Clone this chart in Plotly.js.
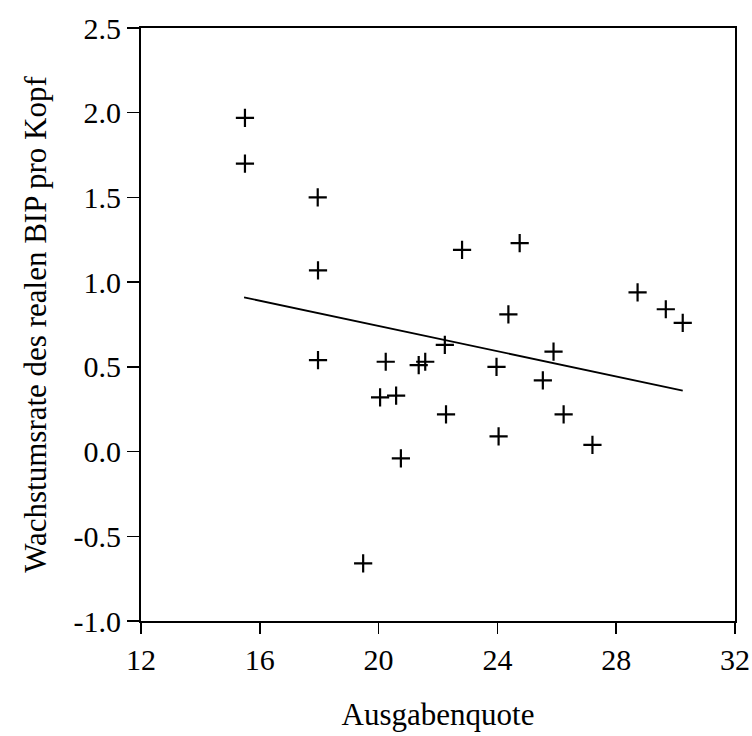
<!DOCTYPE html>
<html>
<head>
<meta charset="utf-8">
<script src="https://cdn.plot.ly/plotly-3.0.1.min.js"></script>
<style>html,body{margin:0;padding:0;background:#fff;}#chart{width:752px;height:736px;}</style>
</head>
<body>
<div id="chart"></div>
<script>
// Scatter data: Ausgabenquote (x) vs. Wachstumsrate des realen BIP pro Kopf (y)
const quote = [15.5, 15.5, 17.95, 17.96, 17.96, 22.81, 24.75, 28.72, 24.37, 29.67, 30.24, 22.23, 25.89, 20.24, 21.35, 21.57, 23.97, 25.53, 20.05, 20.59, 22.27, 26.23, 24.04, 27.2, 20.75, 19.48];
const growth = [1.97, 1.70, 1.50, 1.07, 0.54, 1.19, 1.23, 0.94, 0.81, 0.84, 0.76, 0.63, 0.59, 0.53, 0.51, 0.53, 0.50, 0.42, 0.32, 0.33, 0.22, 0.22, 0.09, 0.04, -0.04, -0.66];
// Fitted regression line endpoints
const fitX = [15.47, 30.24];
const fitY = [0.91, 0.36];
const yTicks = [-1.0, -0.5, 0.0, 0.5, 1.0, 1.5, 2.0, 2.5];
const xTicks = [12, 16, 20, 24, 28, 32];

const font = {family: 'Liberation Serif, Times New Roman, serif', color: '#000'};

Plotly.newPlot('chart', [
  {x: fitX, y: fitY, mode: 'lines', type: 'scatter', line: {color: '#000', width: 1.8}, hoverinfo: 'skip'},
  {x: quote, y: growth, mode: 'markers', type: 'scatter',
   marker: {symbol: 'cross-thin', size: 13, color: '#000', line: {color: '#000', width: 2.2}}}
], {
  width: 752, height: 736,
  margin: {l: 141, r: 17, t: 28, b: 115},
  paper_bgcolor: '#fff', plot_bgcolor: '#fff',
  showlegend: false,
  font: Object.assign({size: 28}, font),
  xaxis: {range: [12, 32], tickvals: xTicks, ticktext: xTicks.map(String),
    showgrid: false, zeroline: false, showline: true, mirror: true, linecolor: '#000', linewidth: 2,
    ticks: 'outside', ticklen: 11, tickwidth: 1.5, tickcolor: '#000',
    tickfont: Object.assign({size: 30}, font),
    title: {text: 'Ausgabenquote', font: Object.assign({size: 31}, font), standoff: 28}},
  yaxis: {range: [-1, 2.5], tickvals: yTicks, ticktext: yTicks.map(v => v.toFixed(1)),
    showgrid: false, zeroline: false, showline: true, mirror: true, linecolor: '#000', linewidth: 2,
    ticks: 'outside', ticklen: 12, tickwidth: 1.5, tickcolor: '#000',
    tickfont: Object.assign({size: 30}, font),
    title: {text: 'Wachstumsrate des realen BIP pro Kopf', font: Object.assign({size: 31}, font), standoff: 18}}
}, {displayModeBar: false, staticPlot: true});
</script>
</body>
</html>
